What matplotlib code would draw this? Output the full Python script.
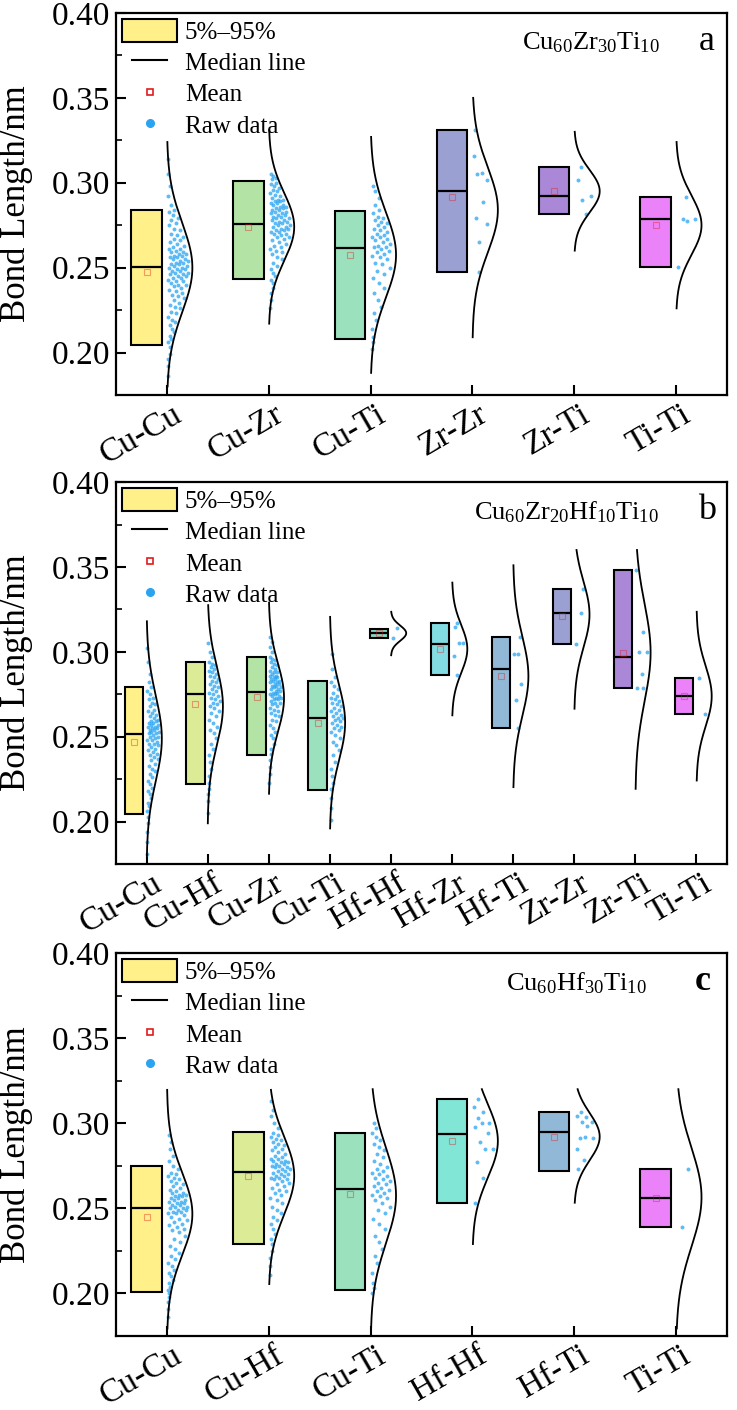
import numpy as np
import matplotlib
matplotlib.use("Agg")
import matplotlib.pyplot as plt
from matplotlib.patches import Patch
from matplotlib.lines import Line2D
from matplotlib.legend_handler import HandlerLine2D
from matplotlib.ticker import MultipleLocator, FormatStrFormatter
import matplotlib.transforms as mtransforms

plt.rcParams['font.family'] = ['Liberation Serif', 'DejaVu Serif']
plt.rcParams['mathtext.fontset'] = 'custom'
plt.rcParams['mathtext.rm'] = 'Liberation Serif'
plt.rcParams['mathtext.it'] = 'Liberation Serif:italic'
plt.rcParams['mathtext.bf'] = 'Liberation Serif:bold'

# ---------------- Panel a: Cu60Zr30Ti10 ----------------
cats_a = ['Cu-Cu', 'Cu-Zr', 'Cu-Ti', 'Zr-Zr', 'Zr-Ti', 'Ti-Ti']
p5_a = [0.2047, 0.2433, 0.2080, 0.2472, 0.2816, 0.2504]
p95_a = [0.2841, 0.3008, 0.2835, 0.3312, 0.3092, 0.2914]
med_a = [0.2504, 0.2759, 0.2618, 0.2949, 0.2924, 0.2788]
mean_a = [0.2472, 0.2741, 0.2576, 0.2916, 0.2949, 0.2753]
colors_a = ['#FFF08A', '#B4E4A5', '#9BE1BE', '#9BA0D2', '#AA87D7', '#EB82FA']
curve_mu_a = [0.2500, 0.2740, 0.2575, 0.2840, 0.2950, 0.2750]
curve_sd_a = [0.0260, 0.0200, 0.0250, 0.0250, 0.0125, 0.0175]
curve_lo_a = [0.1800, 0.2170, 0.1880, 0.2090, 0.2600, 0.2260]
curve_hi_a = [0.3240, 0.3310, 0.3270, 0.3500, 0.3300, 0.3240]

raw_a_cucu = [0.186, 0.192, 0.196, 0.199, 0.203,
              0.206, 0.208, 0.210, 0.212, 0.214, 0.216, 0.218, 0.219, 0.221, 0.223, 0.224, 0.226, 0.227, 0.228, 0.229,
              0.231, 0.232, 0.233, 0.234, 0.235, 0.236, 0.237, 0.238, 0.239, 0.240, 0.240, 0.241, 0.242, 0.242, 0.243,
              0.244, 0.244, 0.245, 0.245, 0.246, 0.246, 0.247, 0.247, 0.248, 0.248, 0.249, 0.249, 0.250,
              0.250, 0.251, 0.251, 0.252, 0.252, 0.253, 0.253, 0.254, 0.254, 0.255, 0.255, 0.256, 0.256, 0.257, 0.257,
              0.258, 0.258, 0.259, 0.259, 0.260, 0.261, 0.261, 0.262, 0.263, 0.264, 0.265, 0.266, 0.267, 0.268, 0.269, 0.270,
              0.272, 0.273, 0.275, 0.276, 0.278, 0.279, 0.281, 0.283, 0.284,
              0.287, 0.292, 0.298, 0.305, 0.314]
raw_a_cuzr = [0.226, 0.231, 0.235, 0.238, 0.241,
              0.243, 0.245, 0.247, 0.249, 0.251, 0.253, 0.255, 0.256, 0.258, 0.259, 0.260, 0.261, 0.262, 0.263, 0.264,
              0.265, 0.266, 0.267, 0.268, 0.268, 0.269, 0.270, 0.270, 0.271, 0.271, 0.272, 0.272, 0.273, 0.273, 0.274,
              0.274, 0.275, 0.275, 0.276, 0.276,
              0.277, 0.277, 0.278, 0.278, 0.279, 0.279, 0.280, 0.280, 0.281, 0.281, 0.282, 0.282, 0.283, 0.283, 0.284,
              0.284, 0.285, 0.285, 0.286, 0.286, 0.287, 0.287, 0.288, 0.288, 0.289, 0.289, 0.290, 0.290, 0.291, 0.292,
              0.293, 0.294, 0.295, 0.296, 0.297, 0.298, 0.299, 0.300,
              0.302, 0.303, 0.304, 0.305]
raw_a_cuti = [0.202, 0.206, 0.209, 0.214, 0.219, 0.223, 0.227, 0.231, 0.235, 0.238, 0.241, 0.244, 0.246, 0.248,
              0.250, 0.252, 0.253, 0.255, 0.256, 0.257, 0.258, 0.259, 0.260, 0.261, 0.262, 0.262, 0.263, 0.264, 0.265,
              0.266, 0.267, 0.268, 0.268, 0.269, 0.270, 0.271, 0.272, 0.273, 0.274, 0.275, 0.276, 0.277, 0.278, 0.279,
              0.280, 0.282, 0.284, 0.287, 0.291, 0.295, 0.298]
raw_a_zrzr = [0.3312, 0.3159, 0.3057, 0.3053, 0.3018, 0.2884, 0.2792, 0.2759, 0.2649, 0.2472]
raw_a_zrti = [0.3092, 0.3018, 0.2924, 0.2900, 0.2816]
raw_a_titi = [0.2914, 0.2788, 0.2788, 0.2772, 0.2504]
raw_a = [raw_a_cucu, raw_a_cuzr, raw_a_cuti, raw_a_zrzr, raw_a_zrti, raw_a_titi]

# ---------------- Panel b: Cu60Zr20Hf10Ti10 ----------------
cats_b = ['Cu-Cu', 'Cu-Hf', 'Cu-Zr', 'Cu-Ti', 'Hf-Hf', 'Hf-Zr', 'Hf-Ti', 'Zr-Zr', 'Zr-Ti', 'Ti-Ti']
p5_b = [0.2047, 0.2222, 0.2392, 0.2187, 0.3084, 0.2861, 0.2554, 0.3045, 0.2788, 0.2632]
p95_b = [0.2795, 0.2940, 0.2969, 0.2826, 0.3133, 0.3171, 0.3086, 0.3372, 0.3484, 0.2846]
med_b = [0.2515, 0.2753, 0.2764, 0.2612, 0.3109, 0.3045, 0.2899, 0.3230, 0.2967, 0.2739]
mean_b = [0.2470, 0.2690, 0.2733, 0.2583, 0.3110, 0.3018, 0.2856, 0.3212, 0.2996, 0.2737]
colors_b = ['#FFF08A', '#DCEB96', '#B4E4A5', '#9BE1BE', '#82D7C3', '#82DCE1', '#91B9D7', '#9BA0D2', '#AA87D7', '#EB82FA']
curve_mu_b = [0.2490, 0.2680, 0.2730, 0.2583, 0.3110, 0.3017, 0.2856, 0.3220, 0.2996, 0.2739]
curve_sd_b = [0.0250, 0.0230, 0.0200, 0.0220, 0.0045, 0.0140, 0.0233, 0.0195, 0.0287, 0.0177]
curve_lo_b = [0.1800, 0.1990, 0.2164, 0.1960, 0.2980, 0.2626, 0.2203, 0.2665, 0.2193, 0.2242]
curve_hi_b = [0.3180, 0.3275, 0.3290, 0.3206, 0.3236, 0.3408, 0.3510, 0.3600, 0.3600, 0.3236]

raw_b_cucu = [0.181, 0.188, 0.194, 0.199, 0.203,
              0.206, 0.209, 0.211, 0.214, 0.216, 0.218, 0.220, 0.222, 0.224, 0.226, 0.228, 0.230, 0.231, 0.233, 0.234,
              0.236, 0.237, 0.238, 0.239, 0.240, 0.241, 0.242, 0.243, 0.244, 0.245, 0.246, 0.246, 0.247, 0.248, 0.248,
              0.249, 0.250, 0.250, 0.251,
              0.252, 0.252, 0.253, 0.253, 0.254, 0.254, 0.255, 0.255, 0.256, 0.256, 0.257, 0.257, 0.258, 0.258, 0.259,
              0.259, 0.260, 0.261, 0.262, 0.263, 0.264, 0.265, 0.266, 0.268, 0.269, 0.270, 0.272, 0.273, 0.275, 0.277,
              0.279, 0.282, 0.287, 0.294, 0.302]
raw_b_cuhf = [0.205, 0.212, 0.216, 0.219,
              0.223, 0.227, 0.231, 0.235, 0.239, 0.243, 0.246, 0.249, 0.252, 0.254, 0.256, 0.258, 0.260, 0.262, 0.264,
              0.265, 0.267, 0.268, 0.269, 0.270, 0.271, 0.272, 0.273, 0.274, 0.275,
              0.276, 0.277, 0.278, 0.279, 0.280, 0.281, 0.282, 0.283, 0.284, 0.285, 0.286, 0.287, 0.288, 0.289, 0.290,
              0.291, 0.292, 0.293, 0.294,
              0.297, 0.300, 0.305]
raw_b_cuzr = [0.223, 0.228, 0.232, 0.236,
              0.240, 0.243, 0.246, 0.249, 0.251, 0.253, 0.255, 0.257, 0.259, 0.260, 0.262, 0.263, 0.264, 0.265, 0.266,
              0.267, 0.268, 0.269, 0.270, 0.270, 0.271, 0.272, 0.272, 0.273, 0.273, 0.274, 0.274, 0.275, 0.275, 0.276,
              0.276,
              0.277, 0.277, 0.278, 0.278, 0.279, 0.279, 0.280, 0.280, 0.281, 0.281, 0.282, 0.282, 0.283, 0.283, 0.284,
              0.284, 0.285, 0.285, 0.286, 0.286, 0.287, 0.288, 0.288, 0.289, 0.290, 0.291, 0.292, 0.293, 0.294, 0.295,
              0.296, 0.297,
              0.300, 0.303, 0.306, 0.309]
raw_b_cuti = [0.201, 0.208, 0.214, 0.219, 0.223, 0.227, 0.231, 0.235, 0.239, 0.242, 0.245, 0.247, 0.249, 0.251,
              0.253, 0.254, 0.255, 0.256, 0.257, 0.258, 0.259, 0.260, 0.261, 0.261, 0.262, 0.263, 0.264, 0.265, 0.266,
              0.267, 0.268, 0.269, 0.270, 0.271, 0.272, 0.273, 0.274, 0.276, 0.278, 0.280, 0.282, 0.285, 0.290, 0.299]
raw_b_hfhf = [0.3138, 0.3084]
raw_b_hfzr = [0.3171, 0.3148, 0.3053, 0.3053, 0.2975, 0.2861]
raw_b_hfti = [0.3086, 0.2988, 0.2988, 0.2811, 0.2714, 0.2554]
raw_b_zrzr = [0.3372, 0.3230, 0.3045]
raw_b_zrti = [0.3484, 0.3119, 0.3000, 0.2998, 0.2869, 0.2788, 0.2788]
raw_b_titi = [0.2846, 0.2632]
raw_b = [raw_b_cucu, raw_b_cuhf, raw_b_cuzr, raw_b_cuti, raw_b_hfhf, raw_b_hfzr, raw_b_hfti,
         raw_b_zrzr, raw_b_zrti, raw_b_titi]

# ---------------- Panel c: Cu60Hf30Ti10 ----------------
cats_c = ['Cu-Cu', 'Cu-Hf', 'Cu-Ti', 'Hf-Hf', 'Hf-Ti', 'Ti-Ti']
p5_c = [0.2006, 0.2290, 0.2019, 0.2533, 0.2721, 0.2392]
p95_c = [0.2751, 0.2947, 0.2945, 0.3143, 0.3065, 0.2729]
med_c = [0.2504, 0.2712, 0.2612, 0.2935, 0.2951, 0.2562]
mean_c = [0.2447, 0.2692, 0.2584, 0.2896, 0.2921, 0.2562]
colors_c = ['#FFF08A', '#DCEB96', '#9BE1BE', '#82E6D7', '#91B9D7', '#EB82FA']
curve_mu_c = [0.2467, 0.2692, 0.2575, 0.2896, 0.2921, 0.2565]
curve_sd_c = [0.0240, 0.0228, 0.0280, 0.0216, 0.0139, 0.0290]
curve_lo_c = [0.1794, 0.2055, 0.1794, 0.2290, 0.2533, 0.1794]
curve_hi_c = [0.3196, 0.3196, 0.3200, 0.3200, 0.3200, 0.3200]

raw_c_cucu = [0.186, 0.191, 0.195, 0.198, 0.200,
              0.202, 0.204, 0.206, 0.208, 0.210, 0.212, 0.214, 0.216, 0.218, 0.220, 0.222, 0.224, 0.226, 0.228, 0.230,
              0.232, 0.234, 0.236, 0.237, 0.238, 0.239, 0.240, 0.241, 0.242, 0.243, 0.244, 0.245, 0.246, 0.247, 0.247,
              0.248, 0.248, 0.249, 0.249, 0.250, 0.250,
              0.251, 0.251, 0.252, 0.252, 0.253, 0.253, 0.254, 0.254, 0.255, 0.255, 0.256, 0.256, 0.257, 0.257, 0.258,
              0.258, 0.259, 0.259, 0.260, 0.261, 0.262, 0.263, 0.264, 0.265, 0.266, 0.267, 0.268, 0.269, 0.270, 0.271,
              0.273, 0.275,
              0.278, 0.281, 0.285, 0.289, 0.293]
raw_c_cuhf = [0.211, 0.216, 0.221, 0.225,
              0.229, 0.232, 0.235, 0.238, 0.241, 0.243, 0.245, 0.247, 0.249, 0.251, 0.253, 0.255, 0.256, 0.258, 0.259,
              0.260, 0.261, 0.262, 0.263, 0.264, 0.265, 0.266, 0.267, 0.267, 0.268, 0.268, 0.269, 0.269, 0.270, 0.270,
              0.271,
              0.272, 0.272, 0.273, 0.273, 0.274, 0.274, 0.275, 0.275, 0.276, 0.276, 0.277, 0.277, 0.278, 0.278, 0.279,
              0.279, 0.280, 0.281, 0.282, 0.283, 0.284, 0.285, 0.286, 0.287, 0.288, 0.289, 0.290, 0.291, 0.292, 0.293,
              0.294,
              0.297, 0.300, 0.304, 0.308, 0.313]
raw_c_cuti = [0.200, 0.203, 0.206, 0.212, 0.218, 0.222, 0.226, 0.230, 0.234, 0.238, 0.241, 0.244, 0.247, 0.249,
              0.251, 0.253, 0.255, 0.256, 0.257, 0.258, 0.259, 0.260, 0.261, 0.262, 0.263, 0.264, 0.265, 0.266, 0.267,
              0.268, 0.269, 0.270, 0.271, 0.272, 0.273, 0.274, 0.276, 0.278, 0.280, 0.282, 0.284, 0.286, 0.288, 0.290,
              0.292, 0.294, 0.297, 0.300]
raw_c_hfhf = [0.3143, 0.3098, 0.3065, 0.3029, 0.3004, 0.3004, 0.2977, 0.2941, 0.2892, 0.2847, 0.2847, 0.2774,
              0.2680, 0.2533]
raw_c_hfti = [0.3065, 0.3043, 0.3035, 0.3010, 0.3010, 0.2984, 0.2912, 0.2912, 0.2918, 0.2847, 0.2784, 0.2729]
raw_c_titi = [0.2729, 0.2392]
raw_c = [raw_c_cucu, raw_c_cuhf, raw_c_cuti, raw_c_hfhf, raw_c_hfti, raw_c_titi]

legend_labels = ['5%\u201395%', 'Median line', 'Mean', 'Raw data']
y_ticks = [0.20, 0.25, 0.30, 0.35, 0.40]
ylim = (0.175, 0.40)

POINT_COLOR = '#2AA4F0'
MEAN_COLOR = '#E31A1C'


class ShortLineHandler(HandlerLine2D):
    """Legend line drawn shorter than the patch handle (as in the original)."""
    def create_artists(self, legend, orig_handle, xdescent, ydescent, width, height, fontsize, trans):
        artists = super().create_artists(legend, orig_handle, xdescent, ydescent, width, height, fontsize, trans)
        for a in artists:
            xd = np.asarray(a.get_xdata(), dtype=float)
            if xd.size >= 2 and orig_handle.get_linestyle() not in ('None', 'none', ''):
                inset = 0.18 * width
                a.set_xdata([xd.min() + inset, xd.max() - inset])
                a.set_ydata([np.mean(a.get_ydata())] * 2)
        return artists


def draw_panel(ax, cats, p5, p95, med, mean, colors, raw, cmu, csd, clo, chi,
               formula, letter, letter_weight, formula_x, letter_x):
    n = len(cats)
    pos = np.arange(1, n + 1)
    # boxes (5%-95%)
    ax.bar(pos - 0.2, np.array(p95) - np.array(p5), bottom=p5, width=0.3,
           color=colors, edgecolor='black', linewidth=1.5, zorder=3)
    # median lines
    ax.hlines(med, pos - 0.35, pos - 0.05, colors='black', linewidth=1.6, zorder=4)
    # mean markers
    ax.plot(pos - 0.2, mean, ls='none', marker='s', ms=4.5, mfc='none',
            mec=(0.89, 0.10, 0.11, 0.4), mew=0.8, zorder=5)
    # normal curves and raw data
    golden = 0.6180339887
    for i in range(n):
        yy = np.linspace(clo[i], chi[i], 300)
        xx = pos[i] + 0.25 * np.exp(-0.5 * ((yy - cmu[i]) / csd[i]) ** 2)
        ax.plot(xx, yy, color='black', lw=1.3, zorder=4)
        vals = np.array(raw[i])
        w = 0.25 * np.exp(-0.5 * ((vals - cmu[i]) / csd[i]) ** 2)
        u = (np.arange(len(vals)) * golden + 0.13 * i) % 1.0
        xs = pos[i] + 0.012 + u * np.maximum(w * 0.85 - 0.012, 0.0)
        ax.scatter(xs, vals, s=8, color=POINT_COLOR, alpha=0.75, linewidths=0, zorder=2)

    ax.set_xlim(0.5, n + 0.5)
    ax.set_ylim(*ylim)
    ax.set_xticks(pos)
    ax.set_xticklabels(cats, rotation=30, ha='right', rotation_mode='anchor', va='top')
    ax.set_yticks(y_ticks)
    ax.yaxis.set_major_formatter(FormatStrFormatter('%.2f'))
    ax.yaxis.set_minor_locator(MultipleLocator(0.025))
    ax.tick_params(axis='x', which='both', direction='in', length=7, width=1.5,
                   top=False, labelsize=24, pad=3)
    ax.tick_params(axis='x', which='minor', bottom=False)
    ax.tick_params(axis='y', which='major', direction='in', length=7, width=1.5,
                   right=False, labelsize=24, pad=4)
    ax.tick_params(axis='y', which='minor', direction='in', length=4, width=1.2, right=False)
    for s in ax.spines.values():
        s.set_linewidth(1.6)
    offset = mtransforms.ScaledTranslation(0.05, 0, ax.figure.dpi_scale_trans)
    for lbl in ax.get_xticklabels():
        lbl.set_transform(lbl.get_transform() + offset)

    ax.set_ylabel('Bond Length/nm', fontsize=25)
    ax.yaxis.set_label_coords(-0.136, 0.5)

    median_handle = Line2D([], [], color='black', lw=1.5)
    handles = [Patch(facecolor='#FFF08A', edgecolor='black', linewidth=1.5),
               median_handle,
               Line2D([], [], ls='none', marker='s', ms=5, mfc='white', mec=MEAN_COLOR, mew=1.2),
               Line2D([], [], ls='none', marker='o', ms=5.5, color=POINT_COLOR)]
    ax.legend(handles, legend_labels, loc='upper left', frameon=False, fontsize=18,
              handlelength=2.2, handleheight=1.0, handletextpad=0.3, labelspacing=0.26,
              borderaxespad=0.15, borderpad=0.1,
              handler_map={median_handle: ShortLineHandler()})

    ax.text(formula_x, 0.922, formula, transform=ax.transAxes, ha='right', va='center', fontsize=19)
    ax.text(letter_x, 0.925, letter, transform=ax.transAxes, ha='center', va='center',
            fontsize=26, fontweight=letter_weight)


fig = plt.figure(figsize=(7.37, 14.10), dpi=100)
ax_a = fig.add_axes([0.1574, 0.7199, 0.8290, 0.2709])
ax_b = fig.add_axes([0.1574, 0.3872, 0.8290, 0.2709])
ax_c = fig.add_axes([0.1574, 0.0525, 0.8290, 0.2716])

draw_panel(ax_a, cats_a, p5_a, p95_a, med_a, mean_a, colors_a, raw_a,
           curve_mu_a, curve_sd_a, curve_lo_a, curve_hi_a,
           r'Cu$_{\mathrm{60}}$Zr$_{\mathrm{30}}$Ti$_{\mathrm{10}}$', 'a', 'normal', 0.89, 0.967)
draw_panel(ax_b, cats_b, p5_b, p95_b, med_b, mean_b, colors_b, raw_b,
           curve_mu_b, curve_sd_b, curve_lo_b, curve_hi_b,
           r'Cu$_{\mathrm{60}}$Zr$_{\mathrm{20}}$Hf$_{\mathrm{10}}$Ti$_{\mathrm{10}}$', 'b', 'normal', 0.889, 0.967)
draw_panel(ax_c, cats_c, p5_c, p95_c, med_c, mean_c, colors_c, raw_c,
           curve_mu_c, curve_sd_c, curve_lo_c, curve_hi_c,
           r'Cu$_{\mathrm{60}}$Hf$_{\mathrm{30}}$Ti$_{\mathrm{10}}$', 'c', 'bold', 0.869, 0.96)

fig.savefig('out.png', dpi=100)
